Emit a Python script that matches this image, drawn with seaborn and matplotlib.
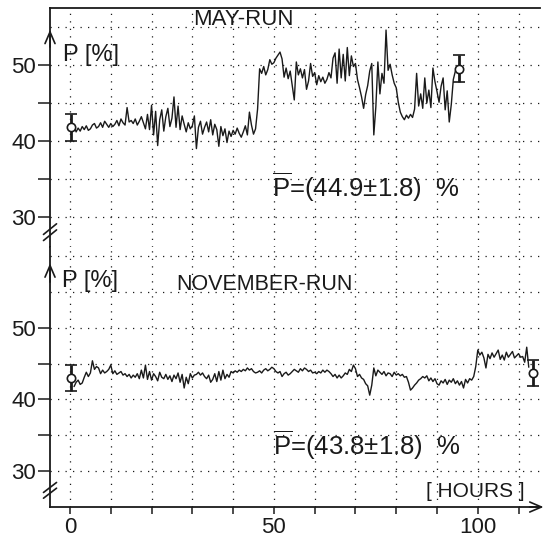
import numpy as np
import matplotlib
matplotlib.use('Agg')
import matplotlib.pyplot as plt
import seaborn as sns

# half-hour samples
may_hours = np.arange(0, 95.5, 0.5)
may_p = [
    42.0, 41.4, 41.9, 41.2, 41.7, 41.3, 41.9, 41.5, 42.0, 41.4,
    41.6, 42.1, 42.3, 41.7, 41.9, 42.4, 41.8, 42.6, 42.2, 41.8,
    42.3, 41.9, 42.2, 42.7, 42.0, 42.9, 42.4, 42.1, 44.4, 42.5,
    42.7, 42.3, 42.9, 42.1, 42.6, 43.2, 42.4, 41.6, 43.5, 41.5,
    44.7, 40.8, 43.9, 39.4, 42.8, 44.1, 41.3, 43.2, 44.3, 41.9,
    43.0, 45.8, 41.8, 44.6, 41.5, 43.3, 42.2, 41.2, 42.4, 41.6,
    42.0, 43.3, 39.0, 41.8, 42.6, 40.9, 41.8, 42.5, 41.2, 42.8,
    40.8, 42.2, 41.5, 39.3, 41.9, 40.7, 41.6, 39.8, 41.3, 40.6,
    41.4, 40.9, 41.7, 41.0, 40.5, 41.2, 42.0, 40.8, 43.8, 42.1,
    40.9, 41.6, 44.2, 49.5, 48.9, 49.8, 48.7, 49.4, 50.7, 50.1,
    50.3, 50.9, 51.3, 51.7, 50.8, 48.4, 49.6, 48.2, 49.2, 47.3,
    45.4, 50.4, 48.7, 49.5, 48.3, 49.4, 46.8, 47.9, 50.2, 48.5,
    49.0, 47.4, 48.6, 47.8, 48.4, 47.6, 48.1, 49.0, 48.3, 50.9,
    51.6, 47.6, 52.1, 48.3, 51.4, 47.9, 52.3, 48.6, 51.2, 49.8,
    50.2, 48.1, 47.0, 45.8, 44.3, 46.1, 47.3, 49.2, 50.2, 40.8,
    44.5, 50.4, 46.2, 48.9, 47.6, 54.6, 49.3, 50.1, 48.7, 47.6,
    47.0, 45.1, 43.8, 43.2, 42.8, 43.4, 43.0, 43.5, 43.1, 44.2,
    48.9, 44.6, 46.2, 44.3, 48.3, 45.0, 46.7, 44.4, 49.6, 47.8,
    46.5, 45.1, 47.2, 48.3, 44.1, 46.6, 42.5, 44.8, 48.1, 49.2,
    49.4,
]

nov_hours = np.arange(1, 113, 0.5)
nov_p = [
    41.8, 42.4, 42.7, 42.1, 42.3, 43.1, 43.8, 43.2, 43.7, 45.4,
    44.2, 44.6, 44.4, 43.6, 44.1, 43.7, 43.9, 44.2, 44.8, 43.6,
    44.0, 43.5, 43.7, 43.9, 43.4, 43.6, 43.2, 43.5, 43.0, 43.4,
    43.1, 43.6, 42.9, 44.1, 43.0, 44.8, 42.8, 43.9, 42.7, 43.6,
    43.2, 42.6, 43.8, 43.1, 42.9, 43.5, 42.8, 43.3, 42.5, 43.4,
    42.9, 43.7, 42.4, 43.5, 41.6, 43.1, 42.2, 43.6, 43.0, 43.4,
    43.5, 43.8, 43.4, 43.7, 43.2, 42.9, 43.4, 42.4, 42.8, 43.6,
    42.5, 43.9, 42.7, 44.1, 42.9, 43.5, 43.1, 43.9, 43.7, 44.0,
    43.8, 44.1, 43.9, 44.2, 44.0, 44.4, 44.1, 44.3, 43.9, 43.7,
    43.8, 44.0, 43.7, 44.1, 44.3, 44.0, 44.2, 44.5, 44.3, 43.9,
    43.7, 43.9, 43.2, 43.6, 43.8, 43.4, 43.6, 43.9, 44.2, 44.0,
    43.8, 44.3, 44.0, 44.4, 44.2, 43.9, 44.1, 43.7, 43.8, 43.6,
    43.9, 43.7, 44.1, 43.8, 44.1, 43.9, 43.6, 43.2, 43.5, 43.0,
    43.4, 43.0, 43.3, 43.7, 43.5, 44.2, 43.9, 44.8, 44.3, 43.2,
    43.5, 43.0, 42.8, 42.2, 41.9, 40.6, 42.0, 44.4, 43.3, 44.1,
    43.8, 43.5, 43.9, 43.3, 43.7, 43.6, 43.2, 43.8, 43.4, 43.6,
    43.3, 43.5, 43.1, 43.2, 42.4, 41.3, 41.6, 42.0, 42.3, 42.7,
    42.9, 43.2, 43.0, 43.3, 42.6, 43.0, 42.5, 42.9, 42.2, 42.0,
    42.6, 42.3, 42.8, 42.1, 42.7, 42.4, 42.9, 42.2, 42.6, 42.0,
    42.5, 41.6, 42.8, 42.3, 42.9, 42.7, 43.2, 44.6, 46.9, 46.2,
    46.6, 45.8, 44.4, 46.3, 45.7, 46.5, 45.9, 46.4, 46.9, 45.6,
    46.2, 45.5, 46.6, 45.9, 46.3, 46.7, 45.8, 46.1, 46.4, 45.9,
    46.0, 45.2, 47.3, 44.5,
]

# start / end calibration points with error bars
may_err_hours = [0.2, 95.3]
may_err_mean = [41.8, 49.5]
nov_err_hours = [0.2, 113.5]
nov_err_mean = [43.0, 43.7]
err_size = [1.8, 1.8]

may_label = r'$\overline{\rm P}$=(44.9±1.8)  %'
nov_label = r'$\overline{\rm P}$=(43.8±1.8)  %'

x_grid = list(range(0, 111, 10))
x_ticklabels = ['0', '', '', '', '', '50', '', '', '', '', '100', '']
y_ticks = [30, 35, 40, 45, 50]
y_ticklabels = ['30', '', '40', '', '50']

sns.set_theme(style='white')
plt.rcParams['font.family'] = ['Liberation Sans', 'DejaVu Sans']
plt.rcParams['mathtext.fontset'] = 'custom'
plt.rcParams['mathtext.rm'] = 'Liberation Sans'

fig = plt.figure(figsize=(5.46, 5.38), dpi=100)
ax1 = fig.add_axes([0.0916, 0.5409, 0.897, 0.4442])
ax2 = fig.add_axes([0.0916, 0.0576, 0.897, 0.4833])

dots = (0, (1, 5))
xmin, xmax = -4.9, 115.2

for ax, ylo, yhi, ygrid in [(ax1, 26.05, 57.5, [30, 35, 40, 45, 50, 55]),
                             (ax2, 24.97, 61.3, [30, 35, 40, 45, 50, 55, 60])]:
    ax.set_xlim(xmin, xmax)
    ax.set_ylim(ylo, yhi)
    for g in x_grid:
        ax.axvline(g, color='k', lw=0.9, ls=dots, zorder=0)
    for g in ygrid:
        ax.axhline(g, color='k', lw=0.9, ls=dots, zorder=0)
    ax.set_yticks(y_ticks)
    ax.set_yticklabels(y_ticklabels)
    ax.tick_params(axis='y', direction='out', length=9, width=1.1, colors='k',
                   labelsize=16, pad=1, left=True)
    for s in ax.spines.values():
        s.set_color('k')
        s.set_linewidth(1.3)
    ax.spines['right'].set_visible(False)

ax1.spines['bottom'].set_visible(False)
ax2.spines['top'].set_visible(False)
ax1.tick_params(axis='x', bottom=False, labelbottom=False)
ax2.set_xticks(x_grid)
ax2.set_xticklabels(x_ticklabels)
ax2.tick_params(axis='x', direction='out', length=5, width=1.1, colors='k',
                labelsize=16, pad=2, bottom=True)

sns.lineplot(x=may_hours, y=may_p, ax=ax1, color='k', lw=1.0, estimator=None)
sns.lineplot(x=nov_hours, y=nov_p, ax=ax2, color='k', lw=1.0, estimator=None)

for ax, hrs, mean in [(ax1, may_err_hours, may_err_mean), (ax2, nov_err_hours, nov_err_mean)]:
    ax.errorbar(hrs, mean, yerr=err_size, fmt='o', color='k', mfc='white', mec='k',
                ms=6, mew=1.2, elinewidth=2, capsize=4, capthick=2, zorder=5,
                clip_on=False)

# axis arrows and breaks
arrow = dict(arrowstyle='->,head_length=0.7,head_width=0.3', lw=1.2, color='k')
ax1.annotate('', xy=(xmin, 55.0), xytext=(xmin, 52.0), arrowprops=arrow, annotation_clip=False)
ax2.annotate('', xy=(xmin, 59.4), xytext=(xmin, 56.0), arrowprops=arrow, annotation_clip=False)
ax2.annotate('', xy=(116.8, 24.97), xytext=(112.0, 24.97), arrowprops=arrow, annotation_clip=False)

for ax, yb in [(ax1, 28.0), (ax2, 27.3)]:
    for off in (0.4, -0.4):
        ax.plot([xmin - 1.6, xmin + 1.6], [yb + off - 0.7, yb + off + 0.7],
                color='k', lw=1.2, clip_on=False)

ax1.text(42.6, 56.05, 'MAY-RUN', ha='center', va='center', fontsize=16, color='k')
ax1.text(-1.7, 51.3, 'P [%]', ha='left', va='center', fontsize=17, color='k')
ax1.text(49.5, 33.9, may_label, ha='left', va='center', fontsize=18.5, color='k')

ax2.text(47.6, 56.0, 'NOVEMBER-RUN', ha='center', va='center', fontsize=15.5, color='k')
ax2.text(-1.9, 56.6, 'P [%]', ha='left', va='center', fontsize=17, color='k')
ax2.text(49.7, 33.6, nov_label, ha='left', va='center', fontsize=18.5, color='k')
ax2.text(99.3, 27.1, '[ HOURS ]', ha='center', va='center', fontsize=15, color='k')

fig.savefig('out.png', dpi=100, facecolor='white')
